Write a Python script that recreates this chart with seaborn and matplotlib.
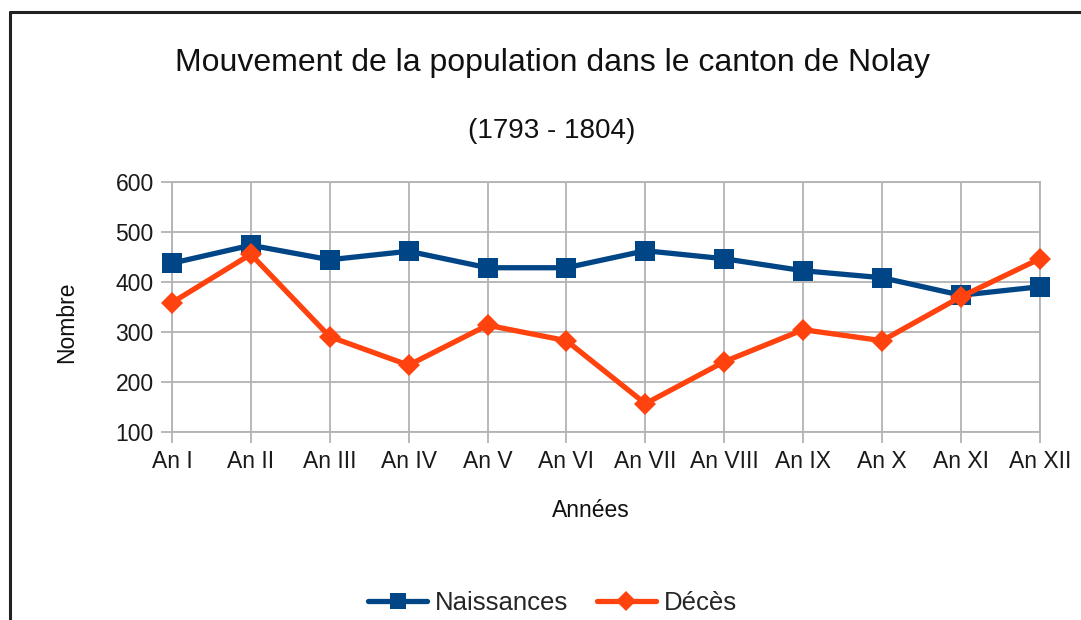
"""Mouvement de la population dans le canton de Nolay (1793 - 1804), line chart -> out.png"""

import pandas as pd
import matplotlib.pyplot as plt
from matplotlib.lines import Line2D
import seaborn as sns

ANNEES = ['An I', 'An II', 'An III', 'An IV', 'An V', 'An VI',
          'An VII', 'An VIII', 'An IX', 'An X', 'An XI', 'An XII']
NAISSANCES = [438, 474, 445, 462, 429, 429, 463, 447, 423, 409, 374, 391]
DECES = [359, 456, 291, 234, 314, 283, 157, 241, 305, 283, 371, 447]

BLUE = '#004586'
ORANGE = '#ff420e'
GRID = '#b3b3b3'


def main():
    df = pd.DataFrame({'Années': ANNEES, 'Naissances': NAISSANCES, 'Décès': DECES})
    df['pos'] = range(len(df))
    long = df.melt(id_vars=['Années', 'pos'], value_vars=['Naissances', 'Décès'],
                   var_name='Série', value_name='Nombre')

    sns.set_theme(style='whitegrid')
    plt.rcParams['font.family'] = ['Liberation Sans', 'DejaVu Sans']

    fig = plt.figure(figsize=(10.81, 6.2), dpi=100)
    ax = fig.add_axes([0.159, 0.303, 0.803, 0.403])

    sns.lineplot(data=long, x='pos', y='Nombre', hue='Série', style='Série',
                 palette={'Naissances': BLUE, 'Décès': ORANGE},
                 markers={'Naissances': 's', 'Décès': 'D'}, dashes=False,
                 sort=False, linewidth=3.8, markeredgewidth=0, ax=ax, legend=False)
    for line in ax.lines:
        line.set_clip_on(False)
        line.set_zorder(5)
        if line.get_marker() == 's':
            line.set_markersize(14)
        else:
            line.set_markersize(11)

    ax.set_xlim(0, len(ANNEES) - 1)
    ax.set_ylim(100, 600)
    ax.set_xticks(range(len(ANNEES)))
    ax.set_xticklabels(ANNEES)
    ax.set_yticks(range(100, 601, 100))
    ax.set_xlabel('')
    ax.set_ylabel('')

    ax.grid(True, color=GRID, linewidth=1.3)
    for sp in ax.spines.values():
        sp.set_color(GRID)
        sp.set_linewidth(1.3)
    ax.tick_params(axis='both', which='major', length=8, width=1.3, color=GRID,
                   labelsize=16.5, labelcolor='#1a1a1a', pad=5,
                   bottom=True, left=True)

    fig.text(0.511, 0.898, 'Mouvement de la population dans le canton de Nolay',
             ha='center', va='center', fontsize=23, color='#111111')
    fig.text(0.510, 0.788, '(1793 - 1804)', ha='center', va='center',
             fontsize=20, color='#111111')
    fig.text(0.547, 0.176, 'Années', ha='center', va='center', fontsize=16.5,
             color='#111111')
    fig.text(0.062, 0.481, 'Nombre', ha='center', va='center', rotation=90,
             fontsize=16.5, color='#111111')

    handles = [
        Line2D([], [], color=BLUE, linewidth=3.8, marker='s', markersize=12,
               markeredgewidth=0, label='Naissances'),
        Line2D([], [], color=ORANGE, linewidth=3.8, marker='D', markersize=10,
               markeredgewidth=0, label='Décès'),
    ]
    fig.legend(handles=handles, loc='center', bbox_to_anchor=(0.511, 0.027),
               ncol=2, frameon=False, fontsize=18.5, handlelength=2.3,
               handletextpad=0.3, columnspacing=1.1)

    # chart frame (top and left edge visible in the reference)
    fig.add_artist(Line2D([0.0093, 0.0093], [0, 0.981], color='#222222',
                          linewidth=2.2, transform=fig.transFigure))
    fig.add_artist(Line2D([0.0093, 1.0], [0.981, 0.981], color='#222222',
                          linewidth=2.2, transform=fig.transFigure))

    fig.savefig('out.png', dpi=100, facecolor='white')
    plt.close(fig)


if __name__ == '__main__':
    main()
